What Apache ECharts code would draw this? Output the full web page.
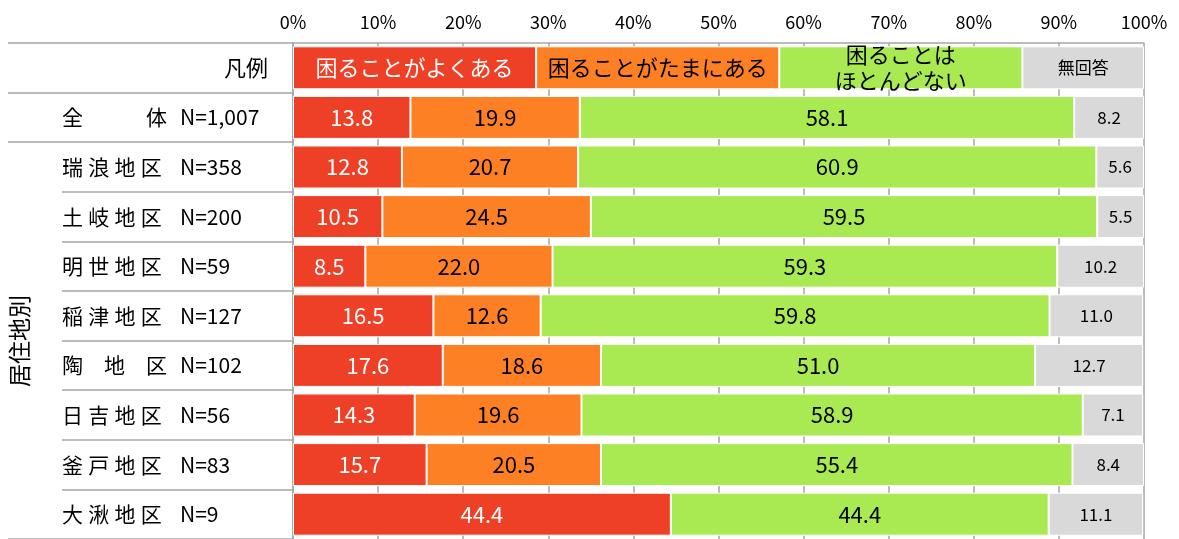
<!DOCTYPE html>
<html>
<head>
<meta charset="utf-8">
<script src="https://cdn.jsdelivr.net/npm/echarts@6/dist/echarts.min.js"></script>
<style>
  html, body { margin: 0; padding: 0; background: #fff; }
  #chart { width: 1179px; height: 539px; }
</style>
</head>
<body>
<div id="chart"></div>
<script>
// 行ラベル（先頭は凡例行）
const rowNames = ['凡例', '全\u3000\u3000\u3000体', '瑞\u2005浪\u2005地\u2005区', '土\u2005岐\u2005地\u2005区', '明\u2005世\u2005地\u2005区',
  '稲\u2005津\u2005地\u2005区', '陶\u2003地\u2003区', '日\u2005吉\u2005地\u2005区', '釜\u2005戸\u2005地\u2005区', '大\u2005湫\u2005地\u2005区']
const rowN = ['', 'N=1,007', 'N=358', 'N=200', 'N=59', 'N=127', 'N=102', 'N=56', 'N=83', 'N=9']

const seriesNames = ['困ることがよくある', '困ることがたまにある', '困ることはほとんどない', '無回答']
const legendLabels = ['困ることがよくある', '困ることがたまにある', '困ることは\nほとんどない', '無回答']
const legendRow = [28.57, 28.57, 28.57, 14.29]

const often = [13.8, 12.8, 10.5, 8.5, 16.5, 17.6, 14.3, 15.7, 44.4]
const sometimes = [19.9, 20.7, 24.5, 22.0, 12.6, 18.6, 19.6, 20.5, 0]
const rarely = [58.1, 60.9, 59.5, 59.3, 59.8, 51.0, 58.9, 55.4, 44.4]
const noAnswer = [8.2, 5.6, 5.5, 10.2, 11.0, 12.7, 7.1, 8.4, 11.1]

const xTicks = [0, 10, 20, 30, 40, 50, 60, 70, 80, 90, 100]

const colors = ['#EE4027', '#FD8025', '#A9EA52', '#D9D9D9']
const labelColors = ['#ffffff', '#000000', '#000000', '#000000']
const FONT = '"Noto Sans CJK JP", sans-serif'

const chart = echarts.init(document.getElementById('chart'))

const values = [often, sometimes, rarely, noAnswer]
const series = values.map((vals, si) => ({
  name: seriesNames[si],
  type: 'bar',
  stack: 'all',
  barWidth: 43,
  data: [legendRow[si]].concat(vals),
  itemStyle: { color: colors[si], borderColor: '#ffffff', borderWidth: 1 },
  label: {
    show: true,
    position: 'inside',
    color: labelColors[si],
    fontFamily: FONT,
    fontSize: si === 3 ? 17 : 22,
    lineHeight: si === 2 ? 26 : undefined,
    formatter: p => {
      if (p.dataIndex === 0) return legendLabels[si]
      if (!p.value) return ''
      return Number(p.value).toFixed(1)
    }
  },
  emphasis: { disabled: true }
}))

const catAxisBase = {
  type: 'category',
  data: rowNames,
  inverse: true,
  position: 'left',
  axisLine: { show: false },
  axisLabel: { show: false },
  splitLine: { show: false }
}

chart.setOption({
  animation: false,
  backgroundColor: '#ffffff',
  textStyle: { fontFamily: FONT },
  grid: { left: 293, right: 35, top: 43, height: 498 },
  xAxis: {
    type: 'value',
    position: 'top',
    min: 0,
    max: 100,
    interval: 10,
    axisLine: { show: true, lineStyle: { color: '#A6A6A6', width: 1.5 } },
    axisTick: { show: false },
    axisLabel: {
      color: '#000', fontSize: 18, fontFamily: FONT, margin: 12,
      formatter: v => (xTicks.includes(v) ? v + '%' : '')
    },
    splitLine: { show: true, lineStyle: { color: '#A6A6A6', width: 1.5 } }
  },
  yAxis: [
    Object.assign({}, catAxisBase, {
      axisLine: { show: true, lineStyle: { color: '#A6A6A6', width: 1.5 } },
      axisTick: { show: true, length: 285, interval: (i) => i <= 2, lineStyle: { color: '#A6A6A6', width: 1.5 } },
      axisLabel: {
        show: true,
        margin: 231,
        align: 'left',
        formatter: (v, i) => i === 0
          ? '{r|' + v + '}'
          : '{n|' + v + '}{c|' + rowN[i] + '}',
        rich: {
          r: { width: 206, align: 'right', fontSize: 22, color: '#000', fontFamily: FONT },
          n: { width: 118, fontSize: 21, color: '#000', fontFamily: FONT },
          c: { fontSize: 21, color: '#000', fontFamily: FONT }
        }
      }
    }),
    Object.assign({}, catAxisBase, {
      axisTick: { show: true, length: 231, interval: (i) => i > 2, lineStyle: { color: '#A6A6A6', width: 1.5 } }
    })
  ],
  graphic: [{
    type: 'text',
    left: 8,
    top: 295,
    rotation: Math.PI / 2,
    style: { text: '居住地別', font: '23px ' + FONT, fill: '#000' }
  }],
  series: series
})
</script>
</body>
</html>
